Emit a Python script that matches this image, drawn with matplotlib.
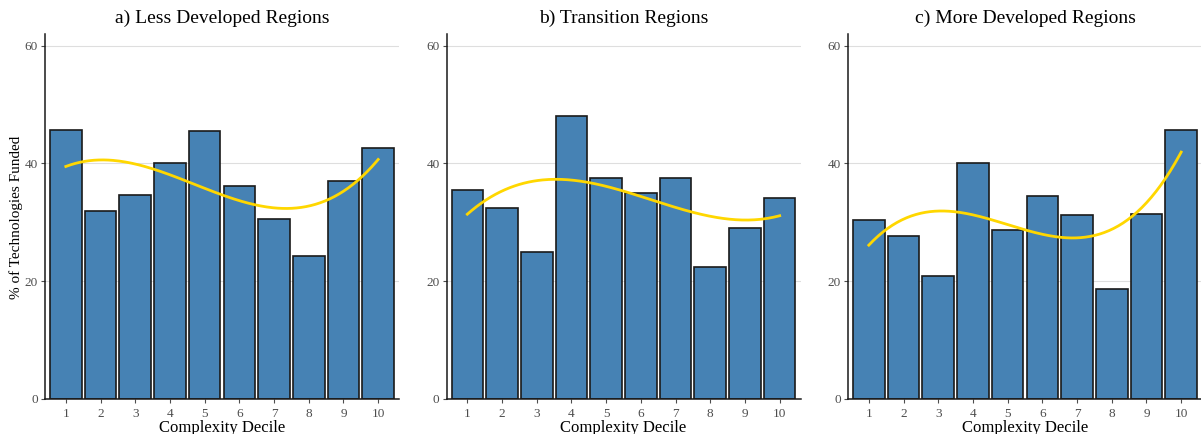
import numpy as np
import matplotlib.pyplot as plt

plt.rcParams['font.family'] = ['Liberation Serif', 'DejaVu Serif']

deciles = np.arange(1, 11)
tick_labels = [str(d) for d in deciles]

less_developed = [45.7, 31.9, 34.7, 40.1, 45.5, 36.1, 30.6, 24.3, 37.0, 42.7]
transition = [35.5, 32.4, 25.0, 48.0, 37.5, 34.9, 37.5, 22.4, 29.1, 34.1]
more_developed = [30.3, 27.7, 20.8, 40.0, 28.6, 34.4, 31.2, 18.6, 31.4, 45.7]

titles = ['a) Less Developed Regions', 'b) Transition Regions', 'c) More Developed Regions']
series = [less_developed, transition, more_developed]

W, H = 1201, 434
fig = plt.figure(figsize=(W / 100, H / 100), dpi=100)

lefts = [45, 446.5, 848]
ax_w = 354
bottom, top = 398.7, 34

for i, (title, vals) in enumerate(zip(titles, series)):
    ax = fig.add_axes([lefts[i] / W, (H - bottom) / H, ax_w / W, (bottom - top) / H])
    ax.set_axisbelow(True)
    ax.grid(axis='y', color='#dedede', linewidth=0.8)
    ax.bar(deciles, vals, width=0.91, color='#4682b4', edgecolor='#1a1a1a', linewidth=1.2, zorder=2)

    # cubic trend through the decile shares
    coef = np.polyfit(deciles, vals, 3)
    xs = np.linspace(1, 10, 200)
    ax.plot(xs, np.polyval(coef, xs), color='#ffd700', linewidth=2, zorder=3)

    ax.set_xlim(0.4, 10.6)
    ax.set_ylim(0, 62)
    ax.set_yticks([0, 20, 40, 60])
    ax.set_xticks(deciles)
    ax.set_xticklabels(tick_labels)
    for side in ['top', 'right']:
        ax.spines[side].set_visible(False)
    for side in ['left', 'bottom']:
        ax.spines[side].set_color('#1a1a1a')
        ax.spines[side].set_linewidth(1.1)
    ax.tick_params(axis='both', colors='#4d4d4d', labelsize=9.5, length=3, width=0.8)
    ax.tick_params(axis='y', pad=2)
    ax.set_title(title, fontsize=14, pad=8)
    ax.set_xlabel('Complexity Decile', fontsize=12, labelpad=0)

fig.text(16 / W, 1 - 217 / H, '% of Technologies Funded', rotation=90,
         fontsize=11, ha='center', va='center')

fig.savefig('out.png', dpi=100, facecolor='white')
